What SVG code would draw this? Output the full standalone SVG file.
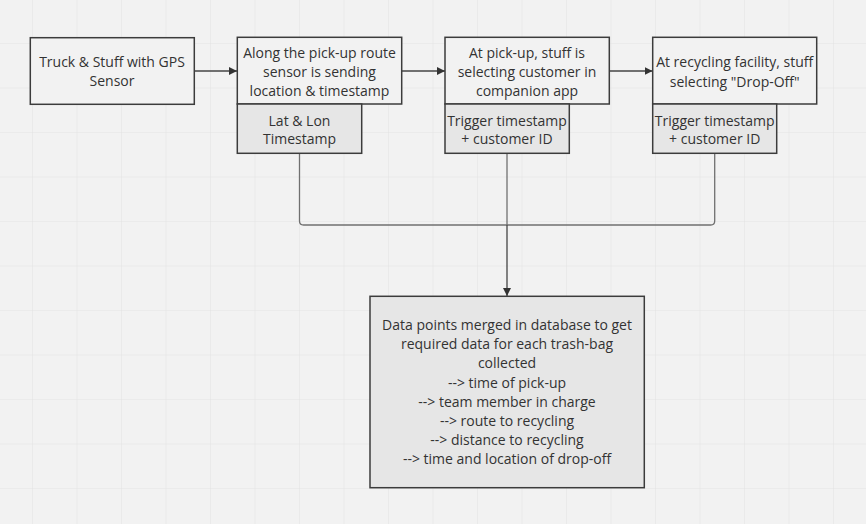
<svg xmlns="http://www.w3.org/2000/svg" width="866" height="524" viewBox="0 0 866 524">
<defs>
<pattern id="grid" x="32" y="43" width="44.5" height="44.5" patternUnits="userSpaceOnUse">
<path d="M0 0V44.5M0 0H44.5" fill="none" stroke="#e4e4e4" stroke-width="1.2"/>
</pattern>
<marker id="arr" viewBox="0 0 10 10" refX="10" refY="5" markerWidth="8" markerHeight="8" markerUnits="userSpaceOnUse" orient="auto">
<path d="M0 0L10 5L0 10Z" fill="#333"/>
</marker>
</defs>
<style>
.box{fill:#f2f2f2;stroke:#3c3c3c;stroke-width:1.5}
.sub{fill:#e6e6e6;stroke:#3c3c3c;stroke-width:1.5}
text{font-family:"Open Sans","Noto Sans",sans-serif;font-size:14px;fill:#333;text-anchor:middle}
.con{fill:none;stroke:#707070;stroke-width:1.3}
.arrow{fill:none;stroke:#444;stroke-width:1.3;marker-end:url(#arr)}
</style>
<rect width="866" height="524" fill="#f2f2f2"/>
<rect width="866" height="524" fill="url(#grid)"/>

<g id="connectors">
<path class="con" d="M299.5 153.5V221Q299.5 225 303.5 225H710.7Q714.7 225 714.7 221V153.5"/>
<path class="con" d="M507 153.5V225"/>
<path class="arrow" d="M507 225V296"/>
<path class="arrow" d="M194.3 71H237"/>
<path class="arrow" d="M401.7 71H445"/>
<path class="arrow" d="M609.3 71H652.5"/>
</g>

<g id="n1">
<rect class="box" x="30.3" y="37.7" width="164" height="66.6"/>
<text x="112" y="66.7">Truck &amp; Stuff with GPS</text>
<text x="112" y="86">Sensor</text>
</g>

<g id="n2">
<rect class="box" x="237.3" y="37.3" width="164.4" height="66.7"/>
<text x="319.5" y="57.7">Along the pick-up route</text>
<text x="319.5" y="76.7">sensor is sending</text>
<text x="319.5" y="96">location &amp; timestamp</text>
</g>
<g id="n2b">
<rect class="sub" x="237.3" y="104" width="124.4" height="49.3"/>
<text x="299.5" y="125.7">Lat &amp; Lon</text>
<text x="299.5" y="144">Timestamp</text>
</g>

<g id="n3">
<rect class="box" x="445" y="37.3" width="164.3" height="66.7"/>
<text x="527" y="57.7">At pick-up, stuff is</text>
<text x="527" y="76.7">selecting customer in</text>
<text x="527" y="96">companion app</text>
</g>
<g id="n3b">
<rect class="sub" x="445" y="104" width="124.3" height="49.3"/>
<text x="507" y="125.7">Trigger timestamp</text>
<text x="507" y="144">+ customer ID</text>
</g>

<g id="n4">
<rect class="box" x="652.7" y="37.3" width="164" height="66.7"/>
<text x="734.7" y="67.3">At recycling facility, stuff</text>
<text x="734.7" y="86.7">selecting "Drop-Off"</text>
</g>
<g id="n4b">
<rect class="sub" x="652.7" y="104" width="124" height="49.3"/>
<text x="714.7" y="125.7">Trigger timestamp</text>
<text x="714.7" y="144">+ customer ID</text>
</g>

<g id="n5">
<rect class="sub" x="370" y="296.3" width="274.3" height="191.4"/>
<text x="507" y="330">Data points merged in database to get</text>
<text x="507" y="349.2">required data for each trash-bag</text>
<text x="507" y="368.4">collected</text>
<text x="507" y="387.6">--&gt; time of pick-up</text>
<text x="507" y="406.8">--&gt; team member in charge</text>
<text x="507" y="426">--&gt; route to recycling</text>
<text x="507" y="445.2">--&gt; distance to recycling</text>
<text x="507" y="464.4">--&gt; time and location of drop-off</text>
</g>
</svg>
